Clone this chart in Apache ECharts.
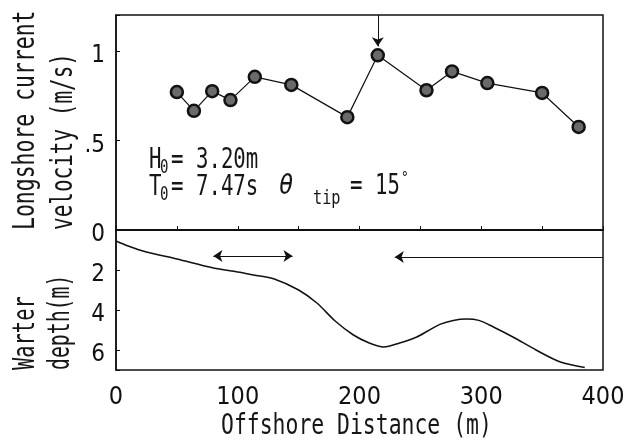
<!DOCTYPE html>
<html>
<head>
<meta charset="utf-8">
<script src="https://cdn.jsdelivr.net/npm/echarts@6/dist/echarts.min.js"></script>
<style>
  html, body { margin: 0; padding: 0; background: #fff; }
  #chart { width: 634px; height: 444px; }
</style>
</head>
<body>
<div id="chart"></div>
<script>
// ---- data ----
const stationDistance = [50, 64, 79, 94, 114, 144, 190, 215, 255, 276, 305, 350, 380];
const currentVelocity = [0.77, 0.665, 0.775, 0.725, 0.855, 0.81, 0.63, 0.975, 0.78, 0.885, 0.82, 0.765, 0.575];

const profileDistance = [0, 10, 25, 50, 80, 100, 113, 130, 150, 165, 180, 195, 208, 220, 233, 247, 256, 266, 277, 288, 298, 310, 326, 345, 365, 385];
const profileDepth    = [0.55, 0.8, 1.1, 1.45, 1.9, 2.1, 2.25, 2.45, 3.0, 3.65, 4.55, 5.25, 5.65, 5.85, 5.65, 5.35, 5.05, 4.72, 4.52, 4.45, 4.52, 4.85, 5.35, 6.0, 6.6, 6.87];

const xTickLabels = [0, 100, 200, 300, 400];
const velocityTickLabels = { 0: '0', 0.5: '.5', 1: '1' };
const depthTickLabels = [2, 4, 6];

// marker arrows (data units)
const peakArrowX = 215;
const peakArrowY = [1.2, 1.025];
const bothWayArrowX = [80, 145];
const bothWayArrowDepth = 1.3;
const shorewardArrowX = [400, 229];
const shorewardArrowDepth = 1.35;

// ---- chart ----
const chart = echarts.init(document.getElementById('chart'), null, { renderer: 'canvas' });
const tickFont = "'Liberation Sans Narrow', 'DejaVu Sans Condensed', 'DejaVu Sans', sans-serif";
const mono = "'DejaVu Sans Mono', monospace";

function monoText(x, y, text, size, scaleX, extra) {
  return Object.assign({
    type: 'text', x: x, y: y, scaleX: scaleX, silent: true,
    style: { text: text, fontFamily: mono, fontSize: size, fill: '#161616',
             textAlign: 'left', textVerticalAlign: 'middle' }
  }, extra || {});
}

const axisCommon = {
  axisLine: { show: true, lineStyle: { color: '#111', width: 1.5 } },
  axisTick: { show: true, inside: true, length: 4, lineStyle: { color: '#111', width: 1 } },
  splitLine: { show: false }
};

const yLabelStyle = { show: true, margin: 11, color: '#111', fontFamily: tickFont, fontSize: 24,
  showMinLabel: true, showMaxLabel: true,
  rich: { d: { fontFamily: tickFont, fontSize: 24, color: '#111', padding: [10, 0, 0, 0] } } };

const option = {
  animation: false,
  backgroundColor: '#fff',
  grid: [
    { left: 116, top: 15, width: 487, height: 215, show: true, borderColor: '#111', borderWidth: 1.5 },
    { left: 116, top: 230, width: 487, height: 140, show: true, borderColor: '#111', borderWidth: 1.5 }
  ],
  xAxis: [
    Object.assign({ gridIndex: 0, type: 'value', min: 0, max: 400, interval: 50,
      axisLabel: { show: false } }, axisCommon),
    Object.assign({ gridIndex: 1, type: 'value', min: 0, max: 400, interval: 50,
      axisLabel: { show: true, margin: 15, color: '#111', fontFamily: tickFont, fontSize: 25,
        showMinLabel: true, showMaxLabel: true,
        formatter: v => (xTickLabels.indexOf(v) >= 0 ? String(v) : '') } }, axisCommon)
  ],
  yAxis: [
    Object.assign({ gridIndex: 0, type: 'value', min: 0, max: 1.2, interval: 0.5,
      axisLabel: Object.assign({}, yLabelStyle, {
        formatter: v => (velocityTickLabels[v] !== undefined ? '{d|' + velocityTickLabels[v] + '}' : '') }) }, axisCommon),
    Object.assign({ gridIndex: 1, type: 'value', min: 0, max: 7, interval: 2, inverse: true,
      axisLabel: Object.assign({}, yLabelStyle, {
        formatter: v => (depthTickLabels.indexOf(v) >= 0 ? '{d|' + v + '}' : '') }) }, axisCommon)
  ],
  series: [
    {
      type: 'line', xAxisIndex: 0, yAxisIndex: 0,
      data: stationDistance.map((d, i) => [d, currentVelocity[i]]),
      symbol: 'circle', symbolSize: 12, showSymbol: true,
      itemStyle: { color: '#6a6a6a', borderColor: '#111', borderWidth: 2.5 },
      lineStyle: { color: '#111', width: 1.2 },
      z: 3,
      markLine: {
        silent: true, symbol: ['none', 'arrow'], symbolSize: 9,
        label: { show: false },
        lineStyle: { color: '#111', width: 1, type: 'solid' },
        data: [[{ coord: [peakArrowX, peakArrowY[0]] }, { coord: [peakArrowX, peakArrowY[1]] }]]
      }
    },
    {
      type: 'line', xAxisIndex: 1, yAxisIndex: 1,
      data: profileDistance.map((d, i) => [d, profileDepth[i]]),
      smooth: 0.3, showSymbol: false, symbol: 'none',
      lineStyle: { color: '#111', width: 1.5 },
      markLine: {
        silent: true,
        label: { show: false },
        lineStyle: { color: '#111', width: 1, type: 'solid' },
        symbolSize: 9,
        data: [
          [{ coord: [bothWayArrowX[0], bothWayArrowDepth], symbol: 'arrow' },
           { coord: [bothWayArrowX[1], bothWayArrowDepth], symbol: 'arrow' }],
          [{ coord: [shorewardArrowX[0], shorewardArrowDepth], symbol: 'none' },
           { coord: [shorewardArrowX[1], shorewardArrowDepth], symbol: 'arrow' }]
        ]
      }
    }
  ],
  graphic: [
    // y-axis titles (rotated)
    monoText(26, 230, 'Longshore current', 30, 0.715, { rotation: Math.PI / 2 }),
    monoText(64, 230, 'velocity (m/s)', 30, 0.70, { rotation: Math.PI / 2 }),
    monoText(26, 370, 'Warter', 30, 0.68, { rotation: Math.PI / 2 }),
    monoText(61, 370, 'depth(m)', 30, 0.66, { rotation: Math.PI / 2 }),
    // x-axis title
    monoText(221, 427, 'Offshore Distance (m)', 28, 0.765),
    // annotations
    monoText(149, 161, 'H', 28, 0.74),
    monoText(160, 168, '0', 19, 0.74),
    monoText(171, 161, '= 3.20m', 28, 0.74),
    monoText(149, 188, 'T', 28, 0.74),
    monoText(160, 195, '0', 19, 0.74),
    monoText(171, 188, '= 7.47s', 28, 0.74),
    monoText(279, 187, 'θ', 28, 0.85, { style: { text: 'θ', fontFamily: mono, fontSize: 28, fontStyle: 'italic', fill: '#161616', textAlign: 'left', textVerticalAlign: 'middle' } }),
    monoText(313, 199, 'tip', 19, 0.8),
    monoText(350, 187, '= 15', 28, 0.74),
    monoText(401, 179, '°', 16, 0.8)
  ]
};
chart.setOption(option);
</script>
</body>
</html>
